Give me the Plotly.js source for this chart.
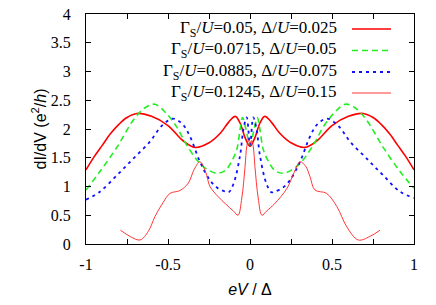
<!DOCTYPE html>
<html>
<head>
<meta charset="utf-8">
<script src="https://cdn.plot.ly/plotly-3.0.1.min.js"></script>
<style>html,body{margin:0;padding:0;background:#fff;}</style>
</head>
<body>
<div id="chart" style="width:436px;height:305px;"></div>
<script>
// Series 1: Γ_S/U=0.05, Δ/U=0.025 (thick red)
const x1 = [-1,-0.95,-0.9,-0.85,-0.8,-0.75,-0.69,-0.6,-0.5,-0.41,-0.335,-0.25,-0.18,-0.13,-0.09,-0.06,-0.03,0,0.03,0.06,0.09,0.13,0.18,0.25,0.335,0.41,0.5,0.6,0.69,0.75,0.8,0.85,0.9,0.95,1];
const y1 = [1.29,1.52,1.72,1.92,2.08,2.2,2.27,2.22,2.06,1.8,1.68,1.76,1.93,2.12,2.22,2.1,1.85,1.7,1.85,2.1,2.22,2.12,1.93,1.76,1.68,1.8,2.06,2.22,2.27,2.2,2.08,1.92,1.72,1.52,1.29];
// Series 2: Γ_S/U=0.0715, Δ/U=0.05 (green dashed)
const x2 = [-1,-0.915,-0.81,-0.71,-0.64,-0.58,-0.51,-0.45,-0.386,-0.305,-0.25,-0.2,-0.15,-0.11,-0.08,-0.06,-0.045,-0.025,0,0.025,0.045,0.06,0.08,0.11,0.15,0.2,0.25,0.305,0.386,0.45,0.51,0.58,0.64,0.71,0.81,0.915,1];
const y2 = [0.94,1.26,1.69,2.16,2.37,2.43,2.27,2.05,1.72,1.4,1.28,1.23,1.28,1.45,1.65,2.0,2.2,2.0,1.72,2.0,2.2,2.0,1.65,1.45,1.28,1.23,1.28,1.4,1.72,2.05,2.27,2.43,2.37,2.16,1.69,1.26,0.97];
// Series 3: Γ_S/U=0.0885, Δ/U=0.075 (blue dotted)
const x3 = [-1,-0.915,-0.81,-0.71,-0.61,-0.54,-0.47,-0.41,-0.366,-0.305,-0.244,-0.2,-0.15,-0.13,-0.1,-0.06,-0.04,-0.02,0,0.02,0.04,0.06,0.1,0.13,0.15,0.2,0.244,0.305,0.366,0.41,0.47,0.54,0.61,0.71,0.81,0.915,1];
const y3 = [0.77,0.91,1.2,1.49,1.78,2.05,2.18,2.08,1.87,1.43,1.11,0.98,0.91,0.9,1.05,1.55,2.0,2.2,1.72,2.2,2.0,1.55,1.05,0.9,0.91,0.98,1.11,1.43,1.87,2.08,2.18,2.05,1.78,1.49,1.2,0.91,0.8];
// Series 4: Γ_S/U=0.1245, Δ/U=0.15 (thin red)
const x4 = [-0.79,-0.73,-0.67,-0.62,-0.579,-0.53,-0.488,-0.427,-0.376,-0.34,-0.305,-0.27,-0.244,-0.193,-0.15,-0.1,-0.073,-0.05,-0.03,-0.02,-0.01,0,0.01,0.02,0.03,0.05,0.073,0.1,0.15,0.226,0.27,0.305,0.34,0.366,0.396,0.467,0.53,0.59,0.66,0.73,0.793];
const y4 = [0.24,0.13,0.07,0.22,0.48,0.72,0.88,0.93,1.06,1.3,1.43,1.25,1.0,0.82,0.7,0.57,0.5,0.8,1.35,1.69,1.8,1.75,1.8,1.69,1.35,0.8,0.5,0.57,0.7,0.97,1.25,1.43,1.35,1.17,0.94,0.88,0.65,0.3,0.07,0.13,0.24];

const legendLabels = [
  'Γ<sub>S</sub>/<i>U</i>=0.05, Δ/<i>U</i>=0.025',
  'Γ<sub>S</sub>/<i>U</i>=0.0715, Δ/<i>U</i>=0.05',
  'Γ<sub>S</sub>/<i>U</i>=0.0885, Δ/<i>U</i>=0.075',
  'Γ<sub>S</sub>/<i>U</i>=0.1245, Δ/<i>U</i>=0.15'
];
const xTickVals = [-1,-0.5,0,0.5,1];
const xTickText = ['-1','-0.5','0','0.5','1'];
const yTickVals = [0,0.5,1,1.5,2,2.5,3,3.5,4];
const yTickText = ['0','0.5','1','1.5','2','2.5','3','3.5','4'];

const SERIF = 'Liberation Serif';
const SANS = 'Liberation Sans';

const styles = [
  {color:'#ff0000', width:1.6, dash:'solid'},
  {color:'#22ee22', width:1.6, dash:'6px,4px'},
  {color:'#1010ff', width:1.8, dash:'3px,4px'},
  {color:'#ff2020', width:0.9, dash:'solid'}
];
const xs = [x1,x2,x3,x4], ys = [y1,y2,y3,y4];
const traces = xs.map((x,i)=>({
  x:x, y:ys[i], type:'scatter', mode:'lines', name:legendLabels[i],
  line:{color:styles[i].color, width:styles[i].width, dash:styles[i].dash, shape:'spline', smoothing:1},
  hoverinfo:'skip', showlegend:false
}));

const L=86, R=22, T=14, B=61, W=436, H=305;
const pw=W-L-R, ph=H-T-B;
const px2x = p => (p-L)/pw;
const py2y = p => (H-B-p)/ph;
const rowY = [29,50.5,72,93];
const annotations = [], shapes = [];
legendLabels.forEach((t,i)=>{
  annotations.push({xref:'paper', yref:'paper', x:px2x(339), y:py2y(rowY[i]), xanchor:'right', yanchor:'middle',
    text:t, showarrow:false, font:{family:SERIF, size:17, color:'#000'}});
  shapes.push({type:'line', xref:'paper', yref:'paper', x0:px2x(352), x1:px2x(391), y0:py2y(rowY[i]), y1:py2y(rowY[i]),
    line:{color:styles[i].color, width:styles[i].width, dash:styles[i].dash}});
});

function axisBase(){
  return {
    showgrid:false, zeroline:false, showline:true, linecolor:'#000', linewidth:1, mirror:'ticks',
    ticks:'inside', ticklen:5, tickcolor:'#000', tickwidth:1,
    tickfont:{family:SERIF, size:16, color:'#000'}
  };
}
const xaxis = axisBase();
Object.assign(xaxis, {range:[-1,1], tickmode:'array', tickvals:xTickVals, ticktext:xTickText,
    minor:{dtick:0.25, ticks:'inside', ticklen:5, tickcolor:'#000', showgrid:false},
    ticklabelstandoff:6,
    title:{text:'<i>eV</i> / Δ', font:{family:SANS, size:16, color:'#000'}, standoff:11}});
const yaxis = axisBase();
Object.assign(yaxis, {range:[0,4], tickmode:'array', tickvals:yTickVals, ticktext:yTickText,
    ticklabelstandoff:11,
    title:{text:'dI/dV (e<sup>2</sup>/<i>h</i>)', font:{family:SANS, size:16, color:'#000'}, standoff:0}});
const layout = {
  width:W, height:H, margin:{l:L, r:R, t:T, b:B, pad:0},
  paper_bgcolor:'#fff', plot_bgcolor:'#fff',
  font:{family:SERIF, size:16, color:'#000'},
  xaxis:xaxis, yaxis:yaxis,
  annotations:annotations, shapes:shapes, showlegend:false
};
Plotly.newPlot('chart', traces, layout, {displayModeBar:false, staticPlot:true});
</script>
</body>
</html>
